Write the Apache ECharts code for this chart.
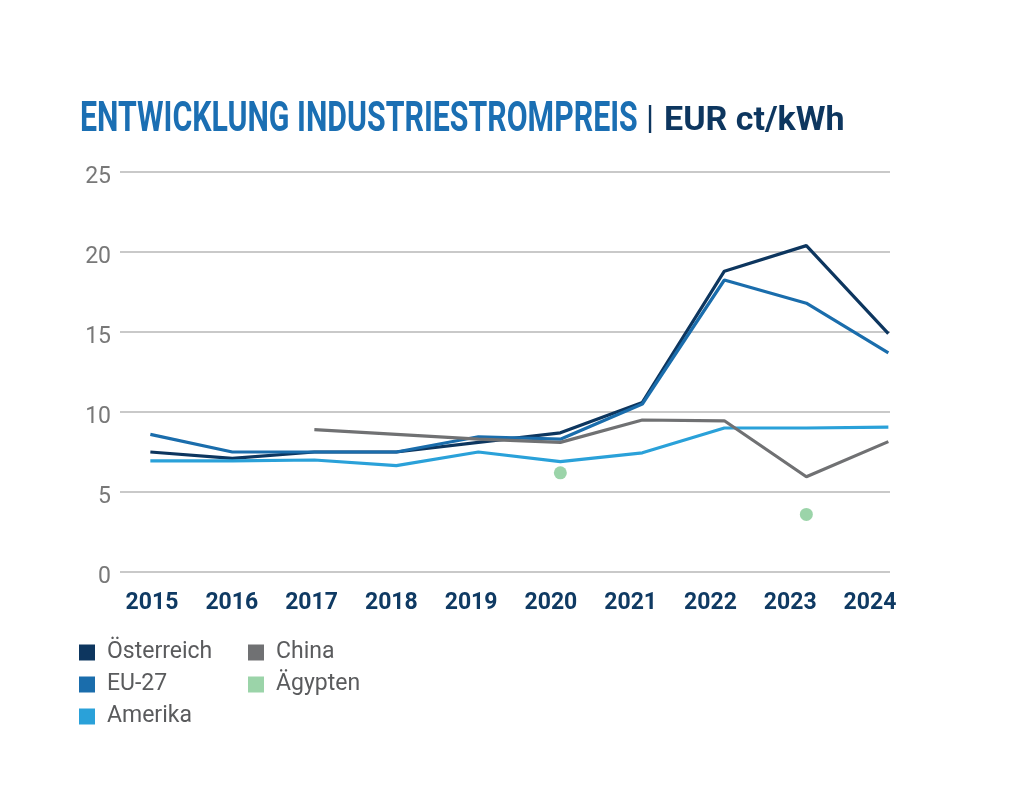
<!DOCTYPE html>
<html>
<head>
<meta charset="utf-8">
<script src="https://cdn.jsdelivr.net/npm/echarts@6/dist/echarts.min.js"></script>
<style>
  html, body { margin: 0; padding: 0; background: #fff; }
  #chart { width: 1024px; height: 810px; }
</style>
</head>
<body>
<div id="chart"></div>
<script>
// data
var years = [2015, 2016, 2017, 2018, 2019, 2020, 2021, 2022, 2023, 2024];
var yearLabels = ['2015', '2016', '2017', '2018', '2019', '2020', '2021', '2022', '2023', '2024'];
var oesterreich = [7.5, 7.1, 7.5, 7.5, 8.1, 8.7, 10.6, 18.8, 20.4, 14.9];
var eu27 = [8.6, 7.5, 7.5, 7.5, 8.45, 8.3, 10.5, 18.25, 16.8, 13.7];
var amerika = [6.95, 6.95, 7.0, 6.65, 7.5, 6.9, 7.45, 9.0, 9.0, 9.05];
var china = [null, null, 8.9, 8.6, 8.3, 8.1, 9.5, 9.45, 5.95, 8.15];
var aegypten = [null, null, null, null, null, 6.2, null, null, 3.6, null];

var colors = {
    oesterreich: '#0d365f',
    eu27: '#1a6dac',
    amerika: '#2aa1d9',
    china: '#707173',
    aegypten: '#82c993'
};

function pairs(values) {
    var out = [];
    for (var i = 0; i < years.length; i++) {
        if (values[i] !== null) out.push([years[i], values[i]]);
    }
    return out;
}

function lineSeries(name, values, color) {
    return {
        name: name,
        type: 'line',
        xAxisIndex: 0,
        yAxisIndex: 0,
        data: pairs(values),
        showSymbol: false,
        symbol: 'none',
        lineStyle: { color: color, width: 3.2 },
        itemStyle: { color: color },
        emphasis: { disabled: true }
    };
}

var legendBase = {
    orient: 'vertical',
    top: 641,
    padding: 0,
    icon: 'rect',
    itemWidth: 16,
    itemHeight: 16,
    itemGap: 9,
    selectedMode: false,
    textStyle: { fontSize: 23, color: '#5a5b5d', padding: [0, 0, 0, 7] }
};

var myChart = echarts.init(document.getElementById('chart'));

myChart.setOption({
    animation: false,
    textStyle: { fontFamily: 'Roboto' },
    graphic: [
        {
            type: 'text',
            x: 80,
            y: 99,
            scaleX: 0.722,
            style: {
                text: 'ENTWICKLUNG INDUSTRIESTROMPREIS',
                font: 'bold 42px Roboto',
                fill: '#1b6fb3'
            }
        },
        {
            type: 'text',
            x: 646,
            y: 104,
            style: {
                text: '|',
                font: '33px Roboto',
                fill: '#0d365f'
            }
        },
        {
            type: 'text',
            x: 664,
            y: 104,
            style: {
                text: 'EUR ct/kWh',
                font: 'bold 34px Roboto',
                fill: '#0d365f'
            }
        }
    ],
    legend: [
        Object.assign({ data: ['Österreich', 'EU-27', 'Amerika'], left: 79 }, legendBase),
        Object.assign({ data: ['China', 'Ägypten'], left: 248 }, legendBase)
    ],
    grid: [
        { left: 120, right: 134, top: 172, bottom: 238 },
        { left: 152, right: 154, top: 172, bottom: 238 }
    ],
    xAxis: [
        {
            gridIndex: 0,
            type: 'value',
            min: 2014.63,
            max: 2024.02,
            show: false
        },
        {
            gridIndex: 1,
            type: 'category',
            data: yearLabels,
            boundaryGap: false,
            axisLine: { show: false },
            axisTick: { show: false },
            axisLabel: {
                margin: 20,
                fontSize: 23,
                fontWeight: 'bold',
                color: '#0f3a63'
            }
        }
    ],
    yAxis: [
        {
            gridIndex: 0,
            type: 'value',
            min: 0,
            max: 25,
            interval: 5,
            axisLine: { show: false },
            axisTick: { show: false },
            axisLabel: {
                margin: 9,
                formatter: '{v|{value}}',
                rich: {
                    v: { fontSize: 23, color: '#787878', padding: [10, 0, 0, 0] }
                }
            },
            splitLine: {
                lineStyle: { color: '#c9c9c9', width: 2 }
            }
        },
        {
            gridIndex: 1,
            type: 'value',
            show: false
        }
    ],
    series: [
        lineSeries('Österreich', oesterreich, colors.oesterreich),
        lineSeries('EU-27', eu27, colors.eu27),
        lineSeries('Amerika', amerika, colors.amerika),
        lineSeries('China', china, colors.china),
        {
            name: 'Ägypten',
            type: 'scatter',
            xAxisIndex: 0,
            yAxisIndex: 0,
            data: pairs(aegypten),
            symbolSize: 13,
            itemStyle: { color: colors.aegypten },
            emphasis: { disabled: true }
        }
    ]
});
</script>
</body>
</html>
